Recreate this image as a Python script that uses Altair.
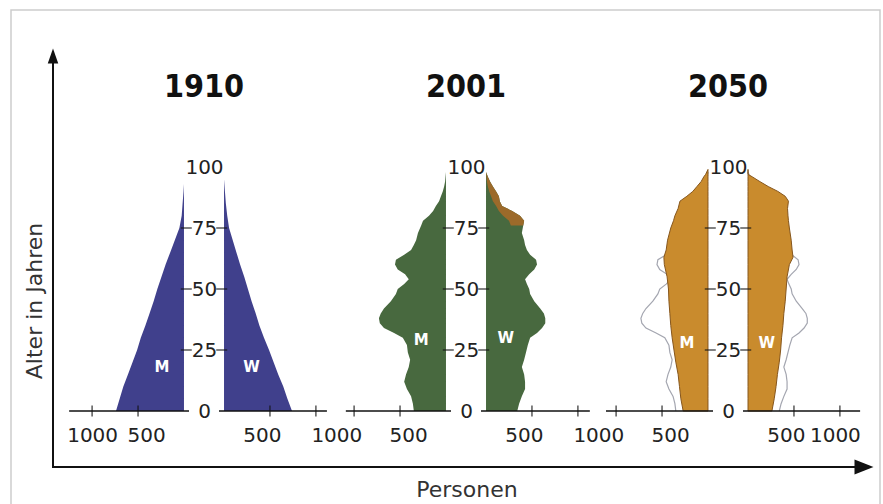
import altair as alt
import pandas as pd

# ---------------- data ----------------
years = ["1910", "2001", "2050"]

age_1910_m = [0, 5, 10, 15, 20, 25, 30, 35, 40, 45, 50, 55, 60, 65, 70, 75, 80, 85, 90, 93]
val_1910_m = [740, 700, 660, 610, 560, 510, 470, 420, 375, 330, 290, 245, 200, 150, 100, 50, 25, 15, 5, 0]
age_1910_w = [0, 5, 10, 15, 20, 25, 30, 35, 40, 45, 50, 55, 60, 65, 70, 75, 80, 85, 90, 95]
val_1910_w = [740, 690, 645, 590, 540, 490, 435, 385, 345, 300, 260, 220, 175, 135, 95, 55, 35, 20, 10, 0]

age_2001 = [0, 3, 6, 9, 12, 15, 18, 21, 24, 27, 30, 32, 34, 36, 38, 40, 42, 45, 48, 50, 52, 54,
            56, 58, 60, 62, 64, 66, 68, 70, 73, 76, 78, 80, 82, 84, 86, 88, 90, 92, 94, 96, 98]
val_2001_m = [350, 360, 380, 425, 455, 435, 405, 390, 415, 425, 470, 565, 675, 720, 730, 710, 675, 600,
              545, 525, 455, 405, 445, 525, 555, 545, 455, 380, 350, 325, 305, 270, 250, 185, 140, 110,
              75, 55, 35, 20, 10, 5, 0]
val_2001_w = [340, 360, 390, 425, 425, 415, 390, 415, 435, 455, 480, 555, 610, 645, 645, 630, 590, 525,
              480, 470, 445, 425, 470, 525, 555, 545, 480, 445, 425, 415, 390, 405, 415, 370, 285, 175,
              150, 140, 110, 75, 45, 20, 0]
surplus_from_age = 75  # women's surplus (brown) in 2001

age_2050 = [0, 5, 10, 15, 20, 25, 30, 35, 40, 45, 50, 55, 60, 63, 66, 70, 75, 78, 80, 83, 86, 88,
            90, 92, 94, 96, 97, 99]
val_2050_m = [270, 295, 310, 325, 350, 370, 390, 405, 415, 425, 430, 445, 475, 480, 455, 440, 405, 375,
              360, 325, 305, 230, 165, 120, 75, 45, 25, 0]
val_2050_w = [260, 285, 305, 320, 340, 355, 365, 380, 390, 405, 415, 425, 450, 490, 480, 470, 450, 440,
              435, 430, 440, 405, 325, 220, 130, 45, 0, 0]

x_tick_values = [500, 1000]
age_label_values = [0, 25, 50, 75, 100]
age_tick_values = [25, 50, 75]

mw_year = ["1910", "1910", "2001", "2001", "2050", "2050"]
mw_sex = ["M", "W", "M", "W", "M", "W"]
mw_x = [240, 300, 270, 215, 230, 205]
mw_age = [18, 18, 29, 30, 28, 28]

fill_colors = {"1910": "#40408c", "2001": "#48693f", "2050": "#c98b2d"}
FONT = "DejaVu Sans"

# ---------------- helpers ----------------
DOMAIN = [-120, 1110]
W, H = 113, 244


def series(year, sex):
    if year == "1910":
        return (age_1910_m, val_1910_m) if sex == "M" else (age_1910_w, val_1910_w)
    if year == "2001":
        return (age_2001, val_2001_m) if sex == "M" else (age_2001, val_2001_w)
    return (age_2050, val_2050_m) if sex == "M" else (age_2050, val_2050_w)


rule_end = {("1910", "M"): 1250, ("1910", "W"): 1120, ("2001", "M"): 1090,
            ("2001", "W"): 1130, ("2050", "M"): 1110, ("2050", "W"): 1220}


def half(year, sex):
    is_m = sex == "M"
    xs = alt.Scale(domain=DOMAIN, reverse=is_m, nice=False, zero=False)
    ys = alt.Scale(domain=[0, 100], nice=False, zero=False)

    label_expr = "datum.label"
    label_align = "center"
    if is_m and year in ("2001", "2050"):
        label_expr = "datum.value == 1000 ? '' : datum.label"
    if (not is_m) and year in ("1910", "2001"):
        label_align = {"condition": {"test": "datum.value == 1000", "value": "left"}, "value": "center"}
    if is_m:
        label_offset = {"condition": {"test": "datum.value == 500", "value": 8}, "value": 0}
    else:
        label_offset = {"condition": {"test": "datum.value == 500", "value": -8}, "value": -5}

    x_axis = alt.Axis(values=x_tick_values, domain=False, ticks=False, tickSize=0, grid=False,
                      labelPadding=14, labelFontSize=20, labelColor="#222", labelFont=FONT,
                      format="d", labelExpr=label_expr, labelAlign=label_align,
                      labelOffset=label_offset,
                      labelFlush=False, labelOverlap=False, title=None)
    if is_m:
        y_axis = alt.Axis(orient="right", values=age_label_values, domain=False, ticks=False,
                          tickSize=0, grid=False, labelPadding=9, labelAlign="center",
                          labelBaseline="middle", labelFontSize=20, labelColor="#222",
                          labelFont=FONT, labelFlush=False, labelOverlap=False, title=None)
    else:
        y_axis = None

    def X(field):
        return alt.X(field, type="quantitative", scale=xs, axis=x_axis)

    def Y(field):
        return alt.Y(field, type="quantitative", scale=ys, axis=y_axis)

    ages, vals = series(year, sex)
    df = pd.DataFrame({"age": ages, "v": vals})
    layers = []

    if year == "2050":
        a01, v01 = series("2001", sex)
        old = pd.DataFrame({"age": a01, "v": v01})
        layers.append(alt.Chart(old).mark_line(color="#a4a6b0", strokeWidth=1.2).encode(
            x=X("v"), y=Y("age"), order=alt.Order("age:Q")))

    area_kw = dict(orient="horizontal", color=fill_colors[year], opacity=1)
    if year == "2050":
        area_kw.update(stroke="#86561c", strokeWidth=1)
    layers.append(alt.Chart(df).mark_area(**area_kw).encode(
        x=X("v"), x2=alt.datum(0), y=Y("age")))

    if year == "2001" and not is_m:
        sur = pd.DataFrame({"age": age_2001, "m": val_2001_m, "w": val_2001_w})
        sur = sur[sur["age"] >= surplus_from_age]
        layers.append(alt.Chart(sur).mark_area(orient="horizontal", color="#9c6a2a").encode(
            x=X("m"), x2="w:Q", y=Y("age")))

    # axis base line
    base = pd.DataFrame({"start": [-55], "end": [rule_end[(year, sex)]], "age": [0]})
    layers.append(alt.Chart(base).mark_rule(color="#111", strokeWidth=1.6).encode(
        x=X("start"), x2="end:Q", y=Y("age")))
    # crossing ticks on the Personen axis
    tk = pd.DataFrame({"v": x_tick_values, "age": [0] * len(x_tick_values)})
    layers.append(alt.Chart(tk).mark_tick(orient="vertical", size=11, thickness=1.5, color="#111").encode(
        x=X("v"), y=Y("age")))
    # ticks beside the age labels
    at = pd.DataFrame({"age": age_tick_values, "v": [-25] * len(age_tick_values)})
    layers.append(alt.Chart(at).mark_tick(orient="horizontal", size=11, thickness=1.5, color="#111").encode(
        x=X("v"), y=Y("age")))

    # M / W label
    mw = pd.DataFrame({"year": mw_year, "sex": mw_sex, "v": mw_x, "age": mw_age})
    mw = mw[(mw["year"] == year) & (mw["sex"] == sex)]
    layers.append(alt.Chart(mw).mark_text(color="white", fontSize=15, fontWeight="bold", font=FONT,
                                         baseline="middle", align="center").encode(
        x=X("v"), y=Y("age"), text="sex:N"))

    one = pd.DataFrame({"year": [year]})
    if is_m:
        layers.append(alt.Chart(one).mark_text(fontSize=32, fontWeight="bold",
                                               font="DejaVu Sans Condensed, DejaVu Sans",
                                               color="#111", align="center", baseline="alphabetic").encode(
            x=alt.value(122), y=alt.value(-70), text="year:N"))

    if year == "1910" and is_m:
        layers.append(alt.Chart(one).mark_rect(fillOpacity=0, stroke="#cdcdcd", strokeWidth=1.5).encode(
            x=alt.value(-71), x2=alt.value(798), y=alt.value(-157), y2=alt.value(353)))
        layers.append(alt.Chart(one).mark_rule(color="#111", strokeWidth=2).encode(
            x=alt.value(-29), y=alt.value(-104), y2=alt.value(300)))
        layers.append(alt.Chart(one).mark_rule(color="#111", strokeWidth=2).encode(
            x=alt.value(-30), x2=alt.value(775), y=alt.value(300)))
        layers.append(alt.Chart(one).mark_point(shape="M0,-1L0.7,1L-0.7,1Z", filled=True, size=225,
                                                color="#111", opacity=1).encode(
            x=alt.value(-29), y=alt.value(-111)))
        layers.append(alt.Chart(one).mark_point(shape="M1,0L-1,-0.8L-1,0.8Z", filled=True, size=361,
                                                color="#111", opacity=1).encode(
            x=alt.value(782), y=alt.value(300)))
        layers.append(alt.Chart(one).mark_text(text="Alter in Jahren", angle=270, fontSize=22, font=FONT,
                                               color="#333", align="center", baseline="middle").encode(
            x=alt.value(-47), y=alt.value(134)))
        layers.append(alt.Chart(one).mark_text(text="Personen", fontSize=22, font=FONT,
                                               color="#333", align="center", baseline="middle").encode(
            x=alt.value(385), y=alt.value(323)))

    return alt.layer(*layers).properties(width=W, height=H)


cells = []
for y in years:
    cells.append(half(y, "M"))
    cells.append(half(y, "W"))

chart = alt.hconcat(*cells, spacing=18, bounds="flush").properties(
    padding={"left": 10, "top": 9, "right": 2, "bottom": 2},
    background="white",
).configure_view(stroke=None)

chart.save("out.html", embed_options={"renderer": "svg", "actions": False})
